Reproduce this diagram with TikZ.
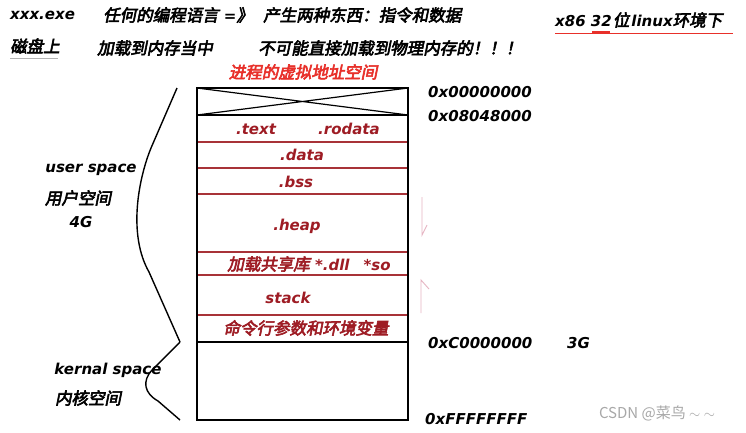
\documentclass[tikz,border=0pt]{standalone}
\usepackage{fontspec}
\setmainfont{DejaVu Sans}
\newfontfamily\zhfam{Noto Sans CJK SC}[FakeSlant=0.2,FakeBold=3.5]
\newfontfamily\wmfam{Noto Sans CJK SC}
\newcommand\Z[1]{{\zhfam\fontsize{16.5pt}{18pt}\fontseries{m}\fontshape{n}\selectfont #1}}
\definecolor{dred}{HTML}{9E1C24}
\definecolor{lred}{HTML}{A83238}
\definecolor{tred}{HTML}{E8302A}
\definecolor{pinkarr}{HTML}{E6B4C2}
\definecolor{wmgray}{HTML}{A8A8A8}
\begin{document}
\begin{tikzpicture}[x=1pt,y=-1pt,
  txt/.style={font=\bfseries\itshape\fontsize{15pt}{17pt}\selectfont, inner sep=0pt},
  seg/.style={txt, text=dred},
  redline/.style={draw=lred, line width=1.6pt},
  blkline/.style={draw=black, line width=1.8pt},
  brace/.style={draw=black, line width=1.4pt},
  arr/.style={draw=pinkarr, line width=0.9pt}]
\useasboundingbox[fill=white] (0,0) rectangle (746,432);

% top texts
\node[txt, anchor=west] (exe) at (10,15) {xxx.exe};
\node[txt, anchor=west] (lang) at (103,15) {\Z{任何的编程语言} =\Z{》}};
\node[txt, anchor=west] (two) at (263,15) {\Z{产生两种东西：指令和数据}};
\node[txt, anchor=west] (x86) at (555,20) {x86 32\kern1pt\Z{位}\kern2pt linux\Z{环境下}};
\draw[draw=tred, line width=1pt] (555,33) -- (733,33);
\draw[draw=tred, line width=2.2pt] (592,32) -- (610,32);
\node[txt, anchor=west] (disk) at (10,46) {\Z{磁盘上}};
\draw[draw=gray!60, line width=0.8pt] (10,58) -- (58,58);
\node[txt, anchor=west] (load) at (97,48) {\Z{加载到内存当中}};
\node[txt, anchor=west] (notp) at (258,48) {\Z{不可能直接加载到物理内存的！！！}};
\node[txt, text=tred] (title) at (303,72) {\Z{进程的虚拟地址空间}};

% memory box
\draw[blkline] (197,88) rectangle (408,420);
\draw[draw=black, line width=2.6pt] (197,88) -- (408,88);
\draw[draw=black, line width=1.2pt] (197,88) -- (408,115) (197,115) -- (408,88);
\draw[blkline] (197,115) -- (408,115);
\foreach \yy in {142,168,194,252,275,315} \draw[redline] (198,\yy) -- (407,\yy);
\draw[blkline] (197,342) -- (408,342);

% segment labels
\node[seg] (text) at (256,129) {.text};
\node[seg] (rodata) at (349,129) {.rodata};
\node[seg] (data) at (302,155) {.data};
\node[seg] (bss) at (296,182) {.bss};
\node[seg] (heap) at (297,226) {.heap};
\node[seg] (dll) at (309,264) {\Z{加载共享库} *.dll\hspace{14pt}*so};
\node[seg] (stack) at (288,298) {stack};
\node[seg] (env) at (306,328) {\Z{命令行参数和环境变量}};

% addresses
\node[txt, anchor=west] (a0) at (428,92) {0x00000000};
\node[txt, anchor=west] (a1) at (428,116) {0x08048000};
\node[txt, anchor=west] (a2) at (428,343) {0xC0000000};
\node[txt, anchor=west] (g3) at (567,343) {3G};
\node[txt, anchor=west] (a3) at (425,419) {0xFFFFFFFF};

% heap/stack growth arrows
\draw[arr] (422,197) -- (422,235) -- (427,225);
\draw[arr] (421,313) -- (421,280) -- (429,289);

% braces
\draw[brace] (177,88) -- (151,148) .. controls (138,180) and (128,235) .. (149,272) -- (180,342);
\draw[brace] (180,342) -- (152,370) .. controls (142,381) and (144,393) .. (158,401) -- (180,420);

% left labels
\node[txt] (us) at (91,170) {user space};
\node[txt] (usz) at (78,198) {\Z{用户空间}};
\node[txt] (g4) at (81,222) {4G};
\node[txt] (ks) at (108,370) {kernal space};
\node[txt] (ksz) at (88,398) {\Z{内核空间}};

% watermark
\node[inner sep=0pt, text=wmgray, font=\wmfam\fontsize{15pt}{17pt}\selectfont] (wm) at (657,413) {CSDN @菜鸟 $\sim$ $\sim$};
\end{tikzpicture}
\end{document}
